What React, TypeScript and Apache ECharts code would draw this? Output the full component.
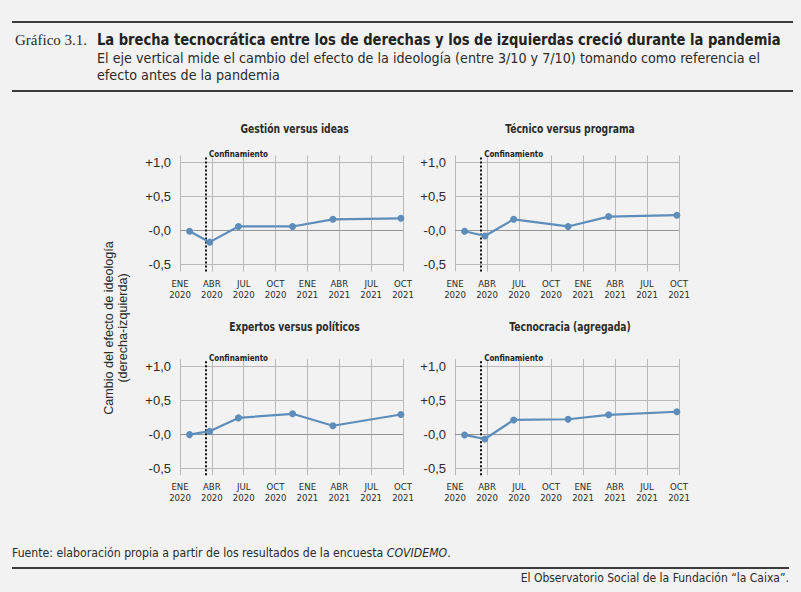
import React, { useEffect, useRef } from "react";
import * as echarts from "echarts";

// ---------- data ----------
const xTickValues = [0, 3, 6, 9, 12, 15, 18, 21]; // months since Jan 2020
const xTickLabels = [
  "ENE\n2020", "ABR\n2020", "JUL\n2020", "OCT\n2020",
  "ENE\n2021", "ABR\n2021", "JUL\n2021", "OCT\n2021",
];
const yTickValues = [-0.5, 0, 0.5, 1.0];
const yTickLabels = ["-0,5", "-0,0", "+0,5", "+1,0"];
const surveyMonths = [0.9, 2.8, 5.5, 10.6, 14.4, 20.8];
const confinementMonth = 2.45;
const confinementLabel = "Confinamiento";

const panelTitles = [
  "Gestión versus ideas",
  "Técnico versus programa",
  "Expertos versus políticos",
  "Tecnocracia (agregada)",
];
const gestionVsIdeas = [-0.01, -0.17, 0.06, 0.06, 0.165, 0.18];
const tecnicoVsPrograma = [-0.01, -0.08, 0.165, 0.06, 0.205, 0.225];
const expertosVsPoliticos = [-0.005, 0.045, 0.24, 0.3, 0.125, 0.29];
const tecnocraciaAgregada = [-0.01, -0.07, 0.21, 0.22, 0.285, 0.33];
const panelValues = [gestionVsIdeas, tecnicoVsPrograma, expertosVsPoliticos, tecnocraciaAgregada];

// ---------- styles ----------
const NARROW = '"DejaVu Sans Condensed", "Liberation Sans Narrow", "Liberation Sans", sans-serif';
const SANS = '"Liberation Sans", Arial, "DejaVu Sans", sans-serif';
const SERIF = '"Liberation Serif", "DejaVu Serif", serif';
const LINE_COLOR = "#5d8dba";
const GRID_COLOR = "#b9b9b9";
const TEXT = "#2b2b2b";

const gridBoxes = [
  { left: 180, top: 155.5, width: 223, height: 116 },
  { left: 455, top: 155.5, width: 224, height: 116 },
  { left: 180, top: 359.2, width: 223, height: 116 },
  { left: 455, top: 359.2, width: 224, height: 116 },
];
const titleY = [129, 129, 327, 327];

function yLabel(v: number) {
  const i = yTickValues.findIndex((t) => Math.abs(t - v) < 1e-6);
  return i >= 0 ? yTickLabels[i] : "";
}
function xLabel(v: number) {
  const i = xTickValues.findIndex((t) => Math.abs(t - v) < 1e-6);
  return i >= 0 ? xTickLabels[i] : "";
}

export default function App() {
  const ref = useRef<HTMLDivElement>(null);
  useEffect(() => {
    document.body.style.margin = "0";
    document.body.style.background = "#f2f2f2";
    const chart = echarts.init(ref.current!, null, { renderer: "svg" });

    const grids = gridBoxes.map((g) => ({ ...g, containLabel: false }));
    const xAxes = gridBoxes.map((_, i) => ({
      type: "value",
      gridIndex: i,
      min: 0,
      max: 21,
      interval: 3,
      axisLine: { show: false },
      axisTick: { show: false },
      splitLine: { show: true, lineStyle: { color: GRID_COLOR, width: 1 } },
      axisLabel: {
        formatter: xLabel,
        fontFamily: NARROW,
        fontSize: 9.5,
        lineHeight: 11,
        color: TEXT,
        margin: 6,
      },
    }));
    const yAxes = gridBoxes.map((_, i) => ({
      type: "value",
      gridIndex: i,
      min: -0.6,
      max: 1.1,
      axisLine: { show: false },
      axisTick: { show: false, customValues: yTickValues },
      splitLine: { show: false },
      axisLabel: {
        customValues: yTickValues,
        formatter: yLabel,
        fontFamily: SANS,
        fontSize: 13,
        color: TEXT,
        margin: 9,
      },
    }));

    const series: any[] = [];
    panelValues.forEach((vals, i) => {
      const data = surveyMonths.map((m, j) => [m, vals[j]]);
      series.push({
        type: "line",
        xAxisIndex: i,
        yAxisIndex: i,
        data,
        silent: true,
        symbol: "none",
        lineStyle: { opacity: 0 },
        z: 1,
        markLine: {
          silent: true,
          symbol: ["none", "none"],
          label: { show: false },
          data: yTickValues.map((v) => ({
            yAxis: v,
            lineStyle: { color: v === 0 ? "#949494" : GRID_COLOR, width: 1, type: "solid" },
          })),
        },
      });
      series.push({
        type: "line",
        xAxisIndex: i,
        yAxisIndex: i,
        data,
        symbol: "circle",
        symbolSize: 7,
        lineStyle: { color: LINE_COLOR, width: 2.2 },
        itemStyle: { color: LINE_COLOR },
        z: 5,
        markLine: {
          silent: true,
          symbol: ["none", "none"],
          data: [
            {
              xAxis: confinementMonth,
              lineStyle: { color: "#111", width: 2, type: [2, 2] },
              label: {
                show: true,
                formatter: confinementLabel,
                position: "end",
                align: "left",
                verticalAlign: "middle",
                distance: 1,
                padding: [0, 0, 0, 3],
                fontFamily: NARROW,
                fontWeight: "bold",
                fontSize: 8,
                color: "#222",
              },
            },
          ],
        },
      });
    });

    const panelTitleGraphics = panelTitles.map((t, i) => ({
      type: "text",
      x: gridBoxes[i].left + gridBoxes[i].width / 2 + 3,
      y: titleY[i],
      scaleX: 0.82,
      style: {
        text: t,
        font: `bold 12.5px ${NARROW}`,
        fill: TEXT,
        align: "center",
        verticalAlign: "middle",
      },
    }));

    chart.setOption({
      animation: false,
      backgroundColor: "#f2f2f2",
      grid: grids,
      xAxis: xAxes,
      yAxis: yAxes,
      series,
      graphic: [
        { type: "rect", shape: { x: 12, y: 21, width: 781, height: 2 }, style: { fill: "#3c3c3c" } },
        {
          type: "text", x: 15, y: 40,
          style: { text: "Gráfico 3.1.", font: `15px ${SERIF}`, fill: TEXT, verticalAlign: "middle" },
        },
        {
          type: "text", x: 97, y: 40, scaleX: 0.94,
          style: {
            text: "La brecha tecnocrática entre los de derechas y los de izquierdas creció durante la pandemia",
            font: `bold 15.5px ${NARROW}`, fill: "#222", verticalAlign: "middle",
          },
        },
        {
          type: "text", x: 97, y: 58,
          style: {
            text: "El eje vertical mide el cambio del efecto de la ideología (entre 3/10 y 7/10) tomando como referencia el",
            font: `14.2px ${NARROW}`, fill: TEXT, verticalAlign: "middle",
          },
        },
        {
          type: "text", x: 97, y: 75,
          style: { text: "efecto antes de la pandemia", font: `14.2px ${NARROW}`, fill: TEXT, verticalAlign: "middle" },
        },
        { type: "rect", shape: { x: 12, y: 90, width: 781, height: 2 }, style: { fill: "#3c3c3c" } },
        ...panelTitleGraphics,
        {
          type: "text", x: 115.5, y: 328, rotation: Math.PI / 2,
          style: {
            text: "Cambio del efecto de ideología\n(derecha-izquierda)",
            font: `12.6px ${SANS}`, fill: TEXT, align: "center", verticalAlign: "middle", lineHeight: 14,
          },
        },
        {
          type: "text", x: 12, y: 553,
          style: {
            text: "Fuente: elaboración propia a partir de los resultados de la encuesta {i|COVIDEMO}.",
            font: `12.2px ${NARROW}`, fill: TEXT, verticalAlign: "middle",
            rich: { i: { fontStyle: "italic", fontFamily: NARROW, fontSize: 12.2, fill: TEXT } },
          },
        },
        { type: "rect", shape: { x: 12, y: 567, width: 777, height: 2 }, style: { fill: "#3c3c3c" } },
        {
          type: "text", x: 789, y: 578,
          style: {
            text: "El Observatorio Social de la Fundación “la Caixa”.",
            font: `12px ${NARROW}`, fill: TEXT, align: "right", verticalAlign: "middle",
          },
        },
      ],
    });
    return () => chart.dispose();
  }, []);
  return <div ref={ref} style={{ width: 801, height: 592, background: "#f2f2f2" }} />;
}
